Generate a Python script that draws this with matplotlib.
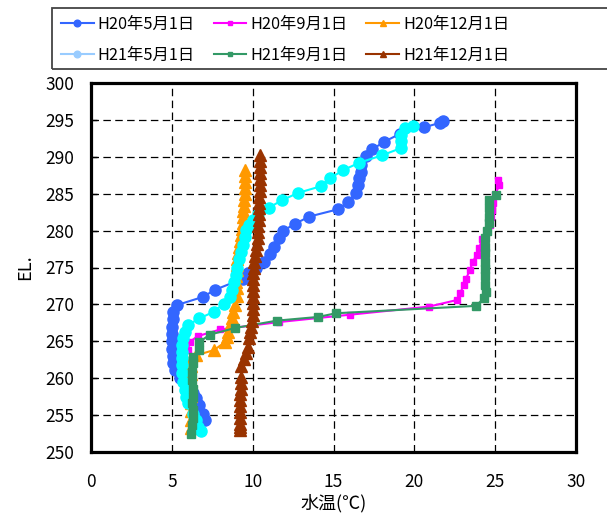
import matplotlib
matplotlib.use("Agg")
import matplotlib.pyplot as plt
from matplotlib.lines import Line2D
from matplotlib.patches import Rectangle

plt.rcParams['font.family'] = ['Noto Sans CJK JP', 'DejaVu Sans']

# --- water temperature profiles (temperature degC, elevation EL.) ---
h20_05_t = [21.8, 21.6, 20.6, 19.1, 18.1, 17.4, 17.0, 16.7, 16.7, 16.6, 16.5, 16.4,
            15.9, 15.3, 13.5, 12.6, 11.9, 11.6, 11.3, 11.1, 10.7, 10.2, 9.7, 9.4,
            7.7, 6.9, 5.3, 5.1, 5.1, 5.0, 5.0, 5.0, 5.0, 5.05, 5.1, 5.2, 5.5, 5.9,
            6.3, 6.5, 6.7, 6.9, 7.05]
h20_05_el = [294.9, 294.6, 294.0, 293.1, 292.0, 291.0, 290.1, 288.9, 288.0, 287.1,
             286.2, 285.1, 283.9, 282.9, 281.9, 280.9, 280.0, 279.0, 277.8, 276.8,
             275.8, 274.9, 274.2, 273.5, 272.0, 271.0, 269.9, 269.0, 268.0, 267.0,
             266.0, 265.0, 264.0, 263.0, 262.0, 261.1, 260.0, 258.9, 258.0, 257.3,
             256.4, 255.2, 254.3]

h20_09_t = [25.2, 25.25, 25.0, 24.85, 24.8, 24.75, 24.7, 24.5, 24.2, 24.0, 23.85,
            23.6, 23.45, 23.2, 23.05, 22.85, 22.65, 20.9, 16.0, 11.6, 8.0, 6.6, 6.1,
            6.0]
h20_09_el = [286.8, 286.2, 284.8, 283.8, 282.8, 281.8, 280.8, 279.9, 278.9, 277.6,
             276.7, 275.7, 274.7, 273.5, 272.6, 271.6, 270.6, 269.7, 268.6, 267.6,
             266.6, 265.7, 264.9, 263.8]

h20_12_t = [9.5, 9.5, 9.5, 9.5, 9.5, 9.45, 9.45, 9.4, 9.4, 9.4, 9.35, 9.3, 9.2,
            9.15, 9.1, 9.05, 9.0, 9.0, 8.95, 8.95, 9.0, 9.0, 8.9, 8.8, 8.7, 8.6, 8.5,
            8.4, 8.3, 7.6, 6.5, 6.1, 6.2, 6.2, 6.2, 6.2, 6.2, 6.2, 6.2, 6.2, 6.2]
h20_12_el = [288.2, 287.4, 286.6, 285.8, 285.0, 284.2, 283.4, 282.6, 281.8, 281.0,
             280.2, 279.4, 278.6, 277.8, 277.0, 276.2, 275.4, 274.6, 273.8, 273.0,
             272.2, 271.2, 269.9, 269.0, 268.1, 267.2, 266.3, 265.6, 264.9, 263.8,
             263.1, 262.5, 261.6, 260.6, 259.6, 258.6, 257.6, 256.6, 255.6, 254.4,
             253.2]

h21_05_t = [19.9, 19.4, 19.2, 19.2, 19.2, 18.0, 16.6, 15.6, 14.8, 14.2, 12.8, 11.8,
            11.0, 10.3, 10.0, 9.8, 9.6, 9.5, 9.4, 9.3, 9.15, 9.0, 8.95, 8.85, 8.75,
            8.6, 8.2, 7.6, 6.7, 6.0, 5.8, 5.7, 5.65, 5.6, 5.6, 5.6, 5.6, 5.7, 5.8,
            5.9, 6.0, 6.3, 6.5, 6.6, 6.8]
h21_05_el = [294.2, 293.9, 293.0, 292.1, 291.2, 290.2, 289.2, 288.2, 287.1, 286.0,
             285.1, 284.1, 283.1, 282.3, 281.4, 280.8, 280.1, 279.1, 278.1, 277.1,
             276.1, 275.0, 274.0, 273.0, 272.0, 271.0, 270.1, 269.0, 268.1, 267.2,
             266.3, 265.4, 264.5, 263.6, 262.7, 261.8, 260.7, 259.5, 258.4, 257.5,
             256.6, 255.2, 254.3, 253.4, 252.8]

h21_09_t = [25.05, 24.6, 24.6, 24.6, 24.6, 24.5, 24.4, 24.4, 24.4, 24.4, 24.4, 24.4,
            24.4, 24.45, 24.3, 23.8, 15.15, 14.05, 11.5, 8.9, 7.35, 6.7, 6.7, 6.3,
            6.3, 6.25, 6.25, 6.3, 6.3, 6.25, 6.3, 6.3, 6.25, 6.2]
h21_09_el = [284.8, 284.1, 283.0, 281.9, 281.0, 279.9, 279.0, 277.8, 276.9, 275.8,
             274.8, 273.8, 272.6, 271.7, 270.8, 269.8, 268.8, 268.3, 267.8, 266.8,
             265.9, 264.9, 263.8, 262.9, 262.0, 260.9, 259.8, 258.6, 257.5, 256.6,
             255.7, 254.6, 253.7, 252.5]

h21_12_t = [10.45, 10.45, 10.45, 10.45, 10.45, 10.45, 10.45, 10.4, 10.4, 10.4, 10.4,
            10.4, 10.35, 10.3, 10.3, 10.25, 10.2, 10.15, 10.1, 10.1, 10.05, 10.0,
            10.0, 10.0, 10.0, 10.0, 10.0, 10.0, 9.95, 9.9, 9.85, 9.8, 9.7, 9.6, 9.45,
            9.3, 9.3, 9.25, 9.25, 9.2, 9.2, 9.2, 9.2, 9.2, 9.2, 9.2, 9.2]
h21_12_el = [290.2, 289.4, 288.6, 287.8, 287.0, 286.2, 285.4, 284.6, 283.8, 283.0,
             282.2, 281.4, 280.6, 279.8, 279.0, 278.2, 277.4, 276.6, 275.8, 275.0,
             274.2, 273.4, 272.6, 271.8, 271.0, 270.2, 269.4, 268.6, 267.8, 267.0,
             266.2, 265.4, 264.2, 263.4, 262.6, 261.6, 260.2, 259.4, 258.6, 257.8,
             257.0, 256.2, 255.4, 254.6, 253.8, 253.4, 253.0]

labels = ['H20年5月1日', 'H20年9月1日', 'H20年12月1日',
          'H21年5月1日', 'H21年9月1日', 'H21年12月1日']

W, H = 607, 520
fig = plt.figure(figsize=(W / 100, H / 100), dpi=100)
ax = fig.add_axes([91 / W, 1 - 452 / H, 485 / W, 369 / H])

lw = 1.5
ms = 8
l1, = ax.plot(h20_05_t, h20_05_el, color='#3366FF', marker='o', ms=ms, lw=lw)
l2, = ax.plot(h20_09_t, h20_09_el, color='#FF00FF', marker='s', ms=5, lw=lw)
l3, = ax.plot(h20_12_t, h20_12_el, color='#FF9900', marker='^', ms=ms, lw=lw)
l4, = ax.plot(h21_05_t, h21_05_el, color='#00FFFF', marker='o', ms=ms, lw=lw)
l5, = ax.plot(h21_09_t, h21_09_el, color='#339966', marker='s', ms=5.5, lw=lw)
l6, = ax.plot(h21_12_t, h21_12_el, color='#993300', marker='^', ms=ms, lw=lw)

ax.set_xlim(0, 30)
ax.set_ylim(250, 300)
ax.set_xticks(range(0, 31, 5))
ax.set_yticks(range(250, 301, 5))
ax.grid(True, color='black', linestyle=(0, (6, 3.5)), linewidth=0.9)
ax.set_axisbelow(True)
for sp in ax.spines.values():
    sp.set_linewidth(2.3)
    sp.set_color('black')
ax.tick_params(axis='y', direction='in', length=4, width=1, pad=12, labelsize=12.5)
ax.tick_params(axis='x', direction='in', length=0, pad=15, labelsize=12.5)

ax.set_xlabel('水温(℃)', fontsize=13, labelpad=2)
ax.set_ylabel('EL.', fontsize=13, labelpad=8)

legend_handle_h21_05 = Line2D([], [], color='#99CCFF', marker='o', ms=ms, lw=lw)
# legend fills column by column: order handles so rows read H20 / H21
handles = [l1, legend_handle_h21_05, l2, l5, l3, l6]
order_labels = [labels[0], labels[3], labels[1], labels[4], labels[2], labels[5]]
leg = fig.legend(handles, order_labels, ncol=3, loc='upper left',
                 bbox_to_anchor=(56 / W, 1 - 11 / H),
                 bbox_transform=fig.transFigure,
                 fontsize=11.75, frameon=False, markerscale=0.6,
                 handlelength=2.0, handletextpad=0.25, columnspacing=1.15,
                 labelspacing=0.85, borderpad=0.3, borderaxespad=0)

# legend box running off the right edge of the figure
fig.patches.append(Rectangle((52 / W, 1 - 69 / H), (W + 10 - 52) / W, 61 / H,
                             transform=fig.transFigure, fill=False,
                             edgecolor='#444444', linewidth=1.3, clip_on=False))

fig.savefig('out.png', dpi=100)
